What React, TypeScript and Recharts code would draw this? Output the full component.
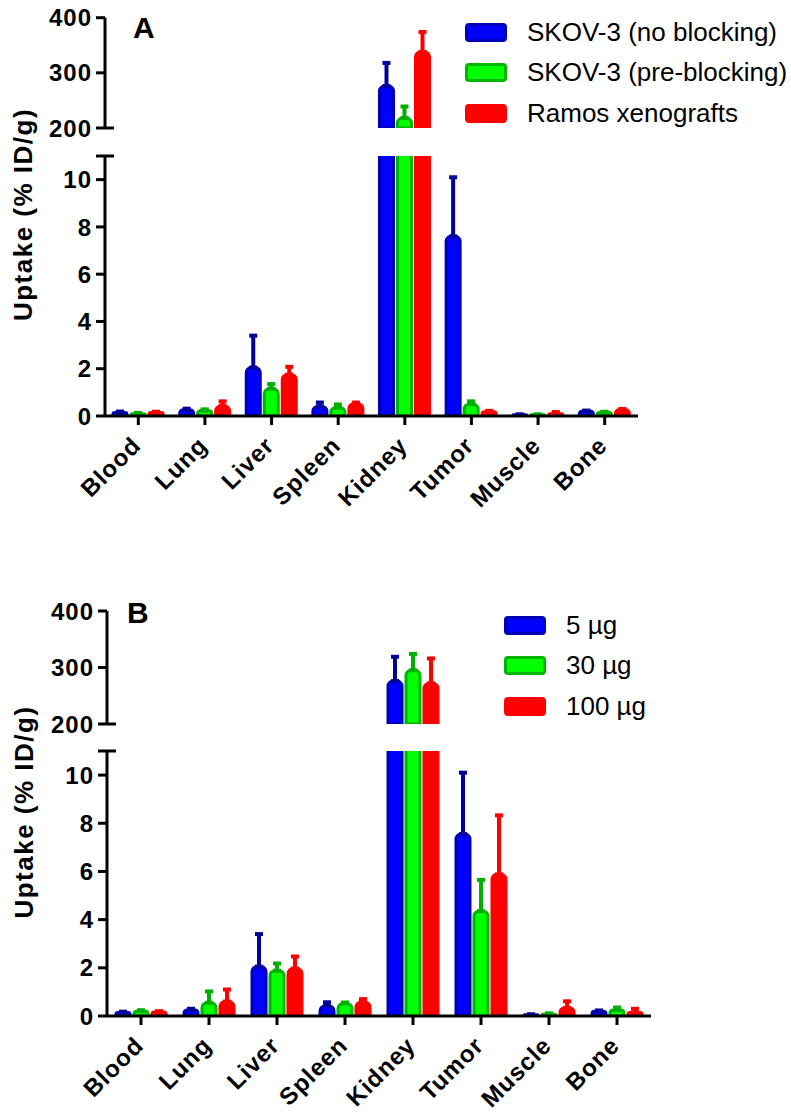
import React from 'react';
import { BarChart, Bar, XAxis, YAxis, ErrorBar, Legend } from 'recharts';

const organs = ['Blood', 'Lung', 'Liver', 'Spleen', 'Kidney', 'Tumor', 'Muscle', 'Bone'];

// panel A
const namesA = ['SKOV-3 (no blocking)', 'SKOV-3 (pre-blocking)', 'Ramos xenografts'];
const noBlocking = [0.15, 0.25, 2.05, 0.4, 276, 7.6, 0.05, 0.2];
const noBlockingErr = [0.04, 0.06, 1.35, 0.17, 42, 2.5, 0.02, 0.03];
const preBlocking = [0.1, 0.22, 1.15, 0.35, 218, 0.5, 0.05, 0.15];
const preBlockingErr = [0.03, 0.06, 0.2, 0.14, 21, 0.12, 0.02, 0.03];
const ramos = [0.15, 0.42, 1.75, 0.52, 338, 0.18, 0.1, 0.25];
const ramosErr = [0.03, 0.2, 0.33, 0.05, 36, 0.04, 0.07, 0.05];

// panel B
const namesB = ['5 µg', '30 µg', '100 µg'];
const dose5 = [0.15, 0.25, 2.05, 0.42, 276, 7.55, 0.05, 0.2];
const dose5Err = [0.03, 0.05, 1.35, 0.15, 43, 2.55, 0.02, 0.03];
const dose30 = [0.2, 0.55, 1.88, 0.52, 295, 4.35, 0.07, 0.25];
const dose30Err = [0.04, 0.47, 0.3, 0.04, 29, 1.3, 0.04, 0.1];
const dose100 = [0.17, 0.6, 1.97, 0.58, 272, 5.88, 0.33, 0.15];
const dose100Err = [0.03, 0.5, 0.5, 0.12, 44, 2.45, 0.28, 0.15];

const upperTicks = [200, 300, 400];
const lowerTicks = [0, 2, 4, 6, 8, 10, 11];
const LOWER_MAX = 11;

const FILLS = ['#0000ff', '#00ff00', '#ff0000'];
const STROKES = ['#0000b8', '#00b400', '#ff0000'];
const ERR_COLORS = ['#00009c', '#00b000', '#ff0000'];

const FONT = '"Liberation Sans", Arial, sans-serif';

function buildRows(values: number[][], errors: number[][], part: 'upper' | 'lower') {
  return organs.map((organ, i) => {
    const row: Record<string, any> = { organ };
    values.forEach((v, s) => {
      const high = v[i] > LOWER_MAX;
      const show = part === 'upper' ? high : true;
      row[`s${s}`] = show ? v[i] : null;
      row[`e${s}`] = show && !(part === 'lower' && high) ? [0, errors[s][i]] : null;
    });
    return row;
  });
}

function YTick(props: any) {
  const { x, y, payload, breakAt } = props;
  const ax = x + 14;
  const isBreak = payload.value === breakAt;
  const label = payload.value === LOWER_MAX ? '' : String(payload.value);
  return (
    <g>
      <line x1={ax - 9} x2={isBreak ? ax + 9 : ax} y1={y} y2={y} stroke="#000" strokeWidth={3} />
      <text
        x={x + 1}
        y={y}
        dy="0.36em"
        textAnchor="end"
        fontFamily={FONT}
        fontWeight="bold"
        fontSize={24}
        letterSpacing={1}
        fill="#000"
      >
        {label}
      </text>
    </g>
  );
}

function XTick(props: any) {
  const { x, y, payload } = props;
  return (
    <text
      x={x + 4}
      y={y + 20}
      transform={`rotate(-45 ${x + 4} ${y + 20})`}
      textAnchor="end"
      fontFamily={FONT}
      fontWeight="bold"
      fontSize={24}
      letterSpacing={1}
      fill="#000"
    >
      {payload.value}
    </text>
  );
}

function LegendList({ names }: { names: string[] }) {
  return (
    <div style={{ fontFamily: FONT, fontSize: 26, color: '#000' }}>
      {names.map((n, s) => (
        <div key={n} style={{ display: 'flex', alignItems: 'center', height: 40.5 }}>
          <div
            style={{
              width: 36,
              height: 13,
              background: FILLS[s],
              border: `3px solid ${STROKES[s]}`,
              borderRadius: 4,
              marginRight: 20,
            }}
          />
          <span style={{ whiteSpace: 'nowrap' }}>{n}</span>
        </div>
      ))}
    </div>
  );
}

type PanelProps = {
  top: number;
  bottom: number;
  letter: string;
  letterX: number;
  letterY: number;
  labelX: number;
  labelY: number;
  names: string[];
  values: number[][];
  errors: number[][];
  axisX: number;
  plotRight: number;
  upperTop: number;
  upperBottom: number;
  lowerTop: number;
  lowerBottom: number;
  legendX: number;
  legendY: number;
};

function Panel(p: PanelProps) {
  const upperH = p.upperBottom - p.top + 20;
  const lowerChartTop = p.top + upperH;
  const lowerH = p.bottom - lowerChartTop;
  const upperRows = buildRows(p.values, p.errors, 'upper');
  const lowerRows = buildRows(p.values, p.errors, 'lower');
  const margin = { left: 0, right: 791 - p.plotRight };

  const bars = p.names.map((n, s) => (
    <Bar
      key={n}
      dataKey={`s${s}`}
      name={n}
      fill={FILLS[s]}
      stroke={STROKES[s]}
      strokeWidth={3}
      radius={[5, 5, 0, 0]}
      barSize={14}
      isAnimationActive={false}
    >
      <ErrorBar dataKey={`e${s}`} direction="y" width={4} strokeWidth={4} stroke={ERR_COLORS[s]} />
    </Bar>
  ));

  return (
    <>
      <div style={{ position: 'absolute', left: 0, top: p.top }}>
        <BarChart
          width={791}
          height={upperH}
          data={upperRows}
          barGap={4}
          margin={{ ...margin, top: p.upperTop - p.top, bottom: 20 }}
        >
          <XAxis dataKey="organ" hide />
          <YAxis
            width={p.axisX}
            domain={[200, 400]}
            ticks={upperTicks}
            allowDataOverflow
            interval={0}
            tickSize={8}
            tickMargin={6}
            tickLine={false}
            axisLine={{ stroke: '#000', strokeWidth: 3 }}
            tick={(t: any) => <YTick {...t} breakAt={200} />}
          />
          <Legend
            layout="vertical"
            align="center"
            verticalAlign="middle"
            wrapperStyle={{ left: p.legendX, top: p.legendY - p.top, width: 330, height: 125 }}
            content={() => <LegendList names={p.names} />}
          />
          {bars}
        </BarChart>
      </div>
      <div style={{ position: 'absolute', left: 0, top: lowerChartTop }}>
        <BarChart
          width={791}
          height={lowerH}
          data={lowerRows}
          barGap={4}
          margin={{ ...margin, top: p.lowerTop - lowerChartTop, bottom: 0 }}
        >
          <XAxis
            dataKey="organ"
            interval={0}
            height={lowerChartTop + lowerH - p.lowerBottom}
            tickSize={9}
            tickMargin={2}
            tickLine={{ stroke: '#000', strokeWidth: 3 }}
            axisLine={{ stroke: '#000', strokeWidth: 3 }}
            tick={<XTick />}
          />
          <YAxis
            width={p.axisX}
            domain={[0, LOWER_MAX]}
            ticks={lowerTicks}
            allowDataOverflow
            interval={0}
            tickSize={8}
            tickMargin={6}
            tickLine={false}
            axisLine={{ stroke: '#000', strokeWidth: 3 }}
            tick={(t: any) => <YTick {...t} breakAt={LOWER_MAX} />}
          />
          {bars}
        </BarChart>
      </div>
      <svg
        width={120}
        height={p.bottom - p.top}
        style={{ position: 'absolute', left: 0, top: p.top, pointerEvents: 'none', overflow: 'visible' }}
      >
        <text
          x={p.labelX}
          y={p.labelY - p.top}
          transform={`rotate(-90 ${p.labelX} ${p.labelY - p.top})`}
          textAnchor="middle"
          dy="0.35em"
          fontFamily={FONT}
          fontWeight="bold"
          fontSize={26}
          letterSpacing={1.5}
        >
          Uptake (% ID/g)
        </text>
        <text x={p.letterX} y={p.letterY - p.top} fontFamily={FONT} fontWeight="bold" fontSize={30}>
          {p.letter}
        </text>
      </svg>
    </>
  );
}

export default function App() {
  return (
    <div style={{ position: 'absolute', left: 0, top: 0, width: 791, height: 1117, background: '#fff' }}>
      <Panel
        top={0}
        bottom={565}
        letter="A"
        letterX={133}
        letterY={38}
        labelX={22.5}
        labelY={214.5}
        names={namesA}
        values={[noBlocking, preBlocking, ramos]}
        errors={[noBlockingErr, preBlockingErr, ramosErr]}
        axisX={105}
        plotRight={638}
        upperTop={17.7}
        upperBottom={128}
        lowerTop={156}
        lowerBottom={416}
        legendX={465}
        legendY={12}
      />
      <Panel
        top={580}
        bottom={1117}
        letter="B"
        letterX={127}
        letterY={623}
        labelX={24}
        labelY={812}
        names={namesB}
        values={[dose5, dose30, dose100]}
        errors={[dose5Err, dose30Err, dose100Err]}
        axisX={107}
        plotRight={651}
        upperTop={611}
        upperBottom={724}
        lowerTop={751}
        lowerBottom={1016}
        legendX={504}
        legendY={605}
      />
    </div>
  );
}
